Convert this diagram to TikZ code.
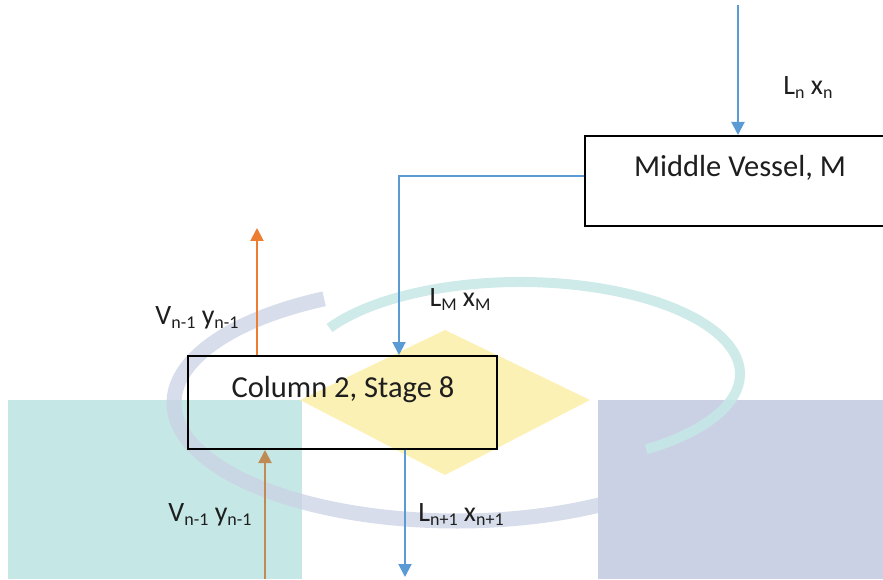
\documentclass[tikz,border=0pt]{standalone}
\usepackage{fontspec}
\setmainfont{Carlito}
\usetikzlibrary{arrows.meta}

\definecolor{flowblue}{HTML}{5B9BD5}
\definecolor{flowor}{HTML}{ED7D31}
\definecolor{flowbrown}{HTML}{C08A55}
\definecolor{inktext}{HTML}{1E1E1E}
\definecolor{bgteal}{HTML}{C5E8E6}
\definecolor{bglav}{HTML}{CBD1E4}
\definecolor{bgyellow}{HTML}{FCF1B4}

% subscript set in a smaller size, lowered below the baseline
\newcommand\lowsub[1]{\raisebox{-0.3ex}{\fontsize{18}{18}\selectfont #1}}

\tikzset{
  unitbox/.style={draw=black, line width=2pt, inner sep=0pt},
  boxtext/.style={text=inktext, font=\fontsize{30.5}{30.5}\selectfont, inner sep=0pt},
  flowlabel/.style={text=inktext, font=\fontsize{28}{28}\selectfont, inner sep=0pt},
  flow/.style={line width=2pt, -{Triangle[width=13pt,length=13pt]}},
}

\begin{document}
\begin{tikzpicture}[x=1pt,y=1pt]
\useasboundingbox (0,0) rectangle (883,579);

% background shapes
\fill[bgteal] (8,0) rectangle (302,179);
\fill[bglav] (598,0) rectangle (883,179);
\fill[bgyellow] (300,179) -- (445,249) -- (590,179) -- (445,104) -- cycle;
\draw[bglav, line width=15pt, opacity=0.75]
  (457,176) ++(118:283 and 118) arc[start angle=118, end angle=318, x radius=283, y radius=118];
\draw[bgteal, line width=10pt, opacity=0.85]
  (520,205) ++(150:220 and 92) arc[start angle=150, end angle=-55, x radius=220, y radius=92];

% units
\node[unitbox, minimum width=309pt, minimum height=93pt] (col) at (342.5,176.5) {};
\node[boxtext] (coltext) at (343,189) {Column 2, Stage 8};
\node[unitbox, minimum width=305pt, minimum height=90pt] (mv) at (737.5,398) {};
\node[boxtext] (mvtext) at (740,411) {Middle Vessel, M};

% stream end points
\coordinate (feedtop) at (738,574);
\coordinate (vapout) at (257,351);
\coordinate (vapin) at (265,0);
\coordinate (liqout) at (405,2);
\coordinate (bend) at (399,403);

% streams
\draw[flow, flowblue] (feedtop) -- (feedtop |- mv.north);
\draw[flow, flowblue] (mv.west |- bend) -- (bend) -- (bend |- col.north);
\draw[flow, flowor] (vapout |- col.north) -- (vapout);
\draw[flow, flowbrown] (vapin) -- (vapin |- col.south);
\draw[flow, flowblue] (liqout |- col.south) -- (liqout);

% stream labels
\node[flowlabel] (lnlab) at (808,491) {L\lowsub{n} x\lowsub{n}};
\node[flowlabel] (lmlab) at (460,279) {L\lowsub{M} x\lowsub{M}};
\node[flowlabel] (vuplab) at (197,261) {V\lowsub{n-1} y\lowsub{n-1}};
\node[flowlabel] (vinlab) at (210,64) {V\lowsub{n-1} y\lowsub{n-1}};
\node[flowlabel] (lnplab) at (461,64) {L\lowsub{n+1} x\lowsub{n+1}};
\end{tikzpicture}
\end{document}
